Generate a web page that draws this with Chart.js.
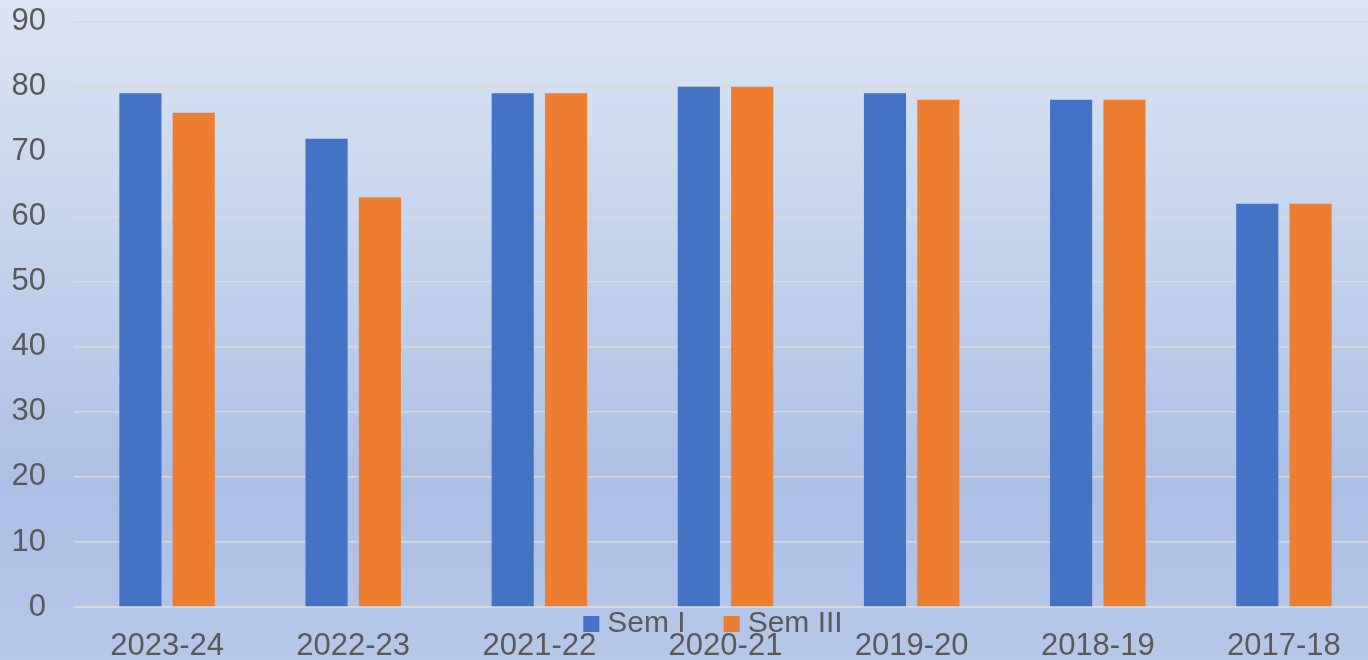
<!DOCTYPE html>
<html>
<head>
<meta charset="utf-8">
<script src="https://cdn.jsdelivr.net/npm/chart.js@4"></script>
<style>
  html, body { margin: 0; padding: 0; overflow: hidden; }
  #wrap {
    width: 1368px; height: 660px; overflow: hidden; position: relative;
    background: linear-gradient(to bottom, #dbe4f3 0%, #c6d4ed 35%, #acbfe4 74%, #afc2e6 83%, #b6c8e8 100%);
  }
  /* chart.js keeps some room above the top tick, so the canvas is pulled up a bit */
  #box { width: 1377px; height: 685px; margin-top: -25px; }
</style>
</head>
<body>
<div id="wrap"><div id="box"><canvas id="semChart"></canvas></div></div>
<script>
const years = ["2023-24", "2022-23", "2021-22", "2020-21", "2019-20", "2018-19", "2017-18"];
const semI = [79, 72, 79, 80, 79, 78, 62];
const semIII = [76, 63, 79, 80, 78, 78, 62];
const seriesNames = ["Sem I", "Sem III"];
const seriesColors = ['#4472c4', '#ed7d31'];

// legend sits over the x labels like in the original, so draw it ourselves
const lowLegend = {
  id: 'lowLegend',
  afterDraw(chart) {
    const ctx = chart.ctx;
    ctx.save();
    ctx.font = '30px "Liberation Sans", Arial, sans-serif';
    ctx.textBaseline = 'middle';
    const box = 16, gapText = 8, gapItem = 38;
    const widths = seriesNames.map(n => ctx.measureText(n).width);
    const total = widths.reduce((a, w) => a + box + gapText + w, 0) + gapItem * (seriesNames.length - 1);
    let x = 713 - total / 2;
    const y = chart.chartArea.bottom + 17;
    seriesNames.forEach((n, i) => {
      ctx.fillStyle = seriesColors[i];
      ctx.fillRect(x, y - box / 2, box, box);
      ctx.fillStyle = '#595959';
      ctx.fillText(n, x + box + gapText, y);
      x += box + gapText + widths[i] + gapItem;
    });
    ctx.restore();
  }
};

const ctx = document.getElementById('semChart').getContext('2d');
new Chart(ctx, {
  type: 'bar',
  data: {
    labels: years,
    datasets: [{
      label: seriesNames[0],
      data: semI,
      backgroundColor: seriesColors[0]
    }, {
      label: seriesNames[1],
      data: semIII,
      backgroundColor: seriesColors[1]
    }]
  },
  options: {
    responsive: true,
    maintainAspectRatio: false,
    animation: false,
    categoryPercentage: 0.573,
    barPercentage: 0.79,
    scales: {
      x: {
        grid: { display: false, drawTicks: false },
        border: { display: true, color: '#d9d9d9', width: 2 },
        ticks: {
          color: '#595959',
          padding: 21,
          maxRotation: 0,
          font: { family: 'Liberation Sans', size: 31 }
        },
        afterFit(scale) { scale.height = 53; }
      },
      y: {
        min: 0,
        max: 90,
        grid: { color: '#d9d9d9', lineWidth: 1.5, drawTicks: false },
        border: { display: false },
        ticks: {
          stepSize: 10,
          color: '#595959',
          padding: 28,
          font: { family: 'Liberation Sans', size: 31 }
        },
        afterFit(scale) { scale.width = 74; }
      }
    },
    plugins: {
      legend: { display: false },
      tooltip: { enabled: false }
    }
  },
  plugins: [lowLegend]
});
</script>
</body>
</html>
